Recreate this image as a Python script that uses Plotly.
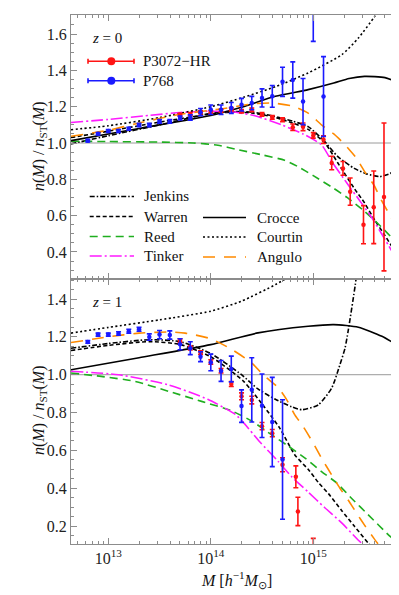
import plotly.graph_objects as go

# ---------------- data (x given as log10 M) ----------------
# z = 0 panel : simulation points
p3072_z0_logm = [13.7, 13.8, 13.9, 14.0, 14.1, 14.2, 14.3, 14.4, 14.5, 14.6, 14.7,
                 14.8, 14.9, 15.0, 15.1, 15.18, 15.29, 15.36, 15.49, 15.59, 15.69]
p3072_z0_val = [1.155, 1.160, 1.170, 1.170, 1.178, 1.186, 1.175, 1.183, 1.158, 1.141, 1.128,
                1.087, 1.089, 1.042, 1.018, 0.890, 0.860, 0.732, 0.550, 0.646, 0.703]
p3072_z0_err = [0.008, 0.008, 0.008, 0.008, 0.008, 0.009, 0.009, 0.010, 0.010, 0.010, 0.011,
                0.018, 0.021, 0.015, 0.021, 0.037, 0.038, 0.075, 0.105, 0.200, 0.407]

p768_z0_logm = [12.8, 12.9, 13.0, 13.1, 13.2, 13.3, 13.4, 13.5, 13.6, 13.7, 13.8, 13.9,
                14.0, 14.1, 14.2, 14.3, 14.4, 14.5, 14.6, 14.7, 14.8, 14.9, 15.0, 15.1]
p768_z0_val = [1.013, 1.051, 1.066, 1.066, 1.079, 1.099, 1.099, 1.119, 1.119, 1.138, 1.141, 1.170,
               1.183, 1.183, 1.193, 1.211, 1.220, 1.248, 1.257, 1.337, 1.347, 1.228, 1.95, 1.256]
p768_z0_err = [0.007, 0.007, 0.008, 0.008, 0.008, 0.009, 0.009, 0.010, 0.010, 0.011, 0.015, 0.020,
               0.026, 0.026, 0.030, 0.035, 0.037, 0.050, 0.060, 0.080, 0.100, 0.127, 0.39, 0.220]

# z = 1 panel : simulation points
p3072_z1_logm = [13.7, 13.8, 13.9, 14.0, 14.1, 14.2, 14.3, 14.4, 14.5, 14.6, 14.7, 14.83, 14.85, 15.0]
p3072_z1_val = [1.180, 1.141, 1.117, 1.067, 1.021, 0.951, 0.886, 0.866, 0.728, 0.691, 0.524, 0.460, 0.277, 0.05]
p3072_z1_err = [0.010, 0.010, 0.010, 0.012, 0.012, 0.013, 0.018, 0.020, 0.019, 0.019, 0.037, 0.058, 0.075, 0.085]

p768_z1_logm = [12.8, 12.9, 13.0, 13.1, 13.2, 13.3, 13.4, 13.5, 13.6, 13.7, 13.8, 13.9,
                14.0, 14.1, 14.2, 14.3, 14.4, 14.5, 14.6, 14.7]
p768_z1_val = [1.173, 1.212, 1.212, 1.218, 1.230, 1.240, 1.199, 1.212, 1.210, 1.161, 1.140, 1.095,
               1.065, 1.020, 1.030, 0.834, 0.920, 0.836, 0.750, 0.552]
p768_z1_err = [0.007, 0.008, 0.008, 0.009, 0.010, 0.010, 0.017, 0.022, 0.022, 0.029, 0.034, 0.026,
               0.044, 0.055, 0.068, 0.086, 0.170, 0.168, 0.236, 0.316]

# z = 0 panel : fitting functions
jenkins_z0_logm = [12.636, 13.0, 13.5, 14.0, 14.2, 14.4, 14.6, 14.8, 14.95, 15.1, 15.24, 15.4, 15.52, 15.65, 15.75, 15.8, 15.856]
jenkins_z0_val = [0.995, 1.04, 1.10, 1.163, 1.173, 1.170, 1.150, 1.120, 1.090, 1.015, 0.925, 0.860, 0.830, 0.815, 0.832, 0.860, 0.917]
warren_z0_logm = [12.636, 13.0, 13.5, 14.0, 14.2, 14.4, 14.6, 14.8, 14.95, 15.12, 15.24, 15.4, 15.5, 15.6, 15.7, 15.8, 15.856]
warren_z0_val = [1.03, 1.065, 1.115, 1.160, 1.170, 1.165, 1.145, 1.110, 1.075, 0.995, 0.890, 0.750, 0.670, 0.575, 0.490, 0.400, 0.345]
reed_z0_logm = [12.636, 13.0, 13.5, 13.83, 14.07, 14.25, 14.5, 14.72, 14.85, 15.0, 15.2, 15.33, 15.5, 15.66, 15.8, 15.856]
reed_z0_val = [1.010, 1.008, 1.005, 1.000, 0.988, 0.965, 0.935, 0.905, 0.870, 0.820, 0.750, 0.700, 0.624, 0.540, 0.460, 0.435]
tinker_z0_logm = [12.636, 13.0, 13.4, 13.7, 14.0, 14.2, 14.43, 14.69, 14.9, 15.08, 15.19, 15.34, 15.45, 15.57, 15.73, 15.856]
tinker_z0_val = [1.113, 1.130, 1.152, 1.168, 1.175, 1.172, 1.150, 1.100, 1.050, 0.990, 0.890, 0.770, 0.685, 0.590, 0.440, 0.320]
crocce_z0_logm = [12.636, 13.3, 14.0, 14.3, 14.63, 14.95, 15.2, 15.35, 15.5, 15.7, 15.856]
crocce_z0_val = [1.013, 1.080, 1.152, 1.197, 1.257, 1.294, 1.330, 1.355, 1.367, 1.360, 1.325]
courtin_z0_logm = [12.636, 13.0, 13.5, 14.0, 14.32, 14.64, 14.95, 15.28, 15.44, 15.6, 15.7]
courtin_z0_val = [1.073, 1.095, 1.140, 1.200, 1.252, 1.312, 1.386, 1.487, 1.578, 1.698, 1.790]
angulo_z0_logm = [12.636, 13.0, 13.26, 13.68, 14.13, 14.4, 14.6, 14.8, 14.95, 15.08, 15.2, 15.31, 15.42, 15.51, 15.59, 15.66, 15.75, 15.81, 15.856]
angulo_z0_val = [1.037, 1.070, 1.105, 1.156, 1.190, 1.215, 1.220, 1.203, 1.165, 1.100, 1.050, 0.990, 0.917, 0.835, 0.770, 0.690, 0.600, 0.530, 0.477]

# z = 1 panel : fitting functions
jenkins_z1_logm = [12.636, 13.0, 13.4, 13.7, 14.0, 14.3, 14.46, 14.63, 14.79, 14.89, 15.05, 15.18, 15.26, 15.31, 15.34, 15.41, 15.44]
jenkins_z1_val = [1.140, 1.165, 1.185, 1.175, 1.112, 1.000, 0.925, 0.870, 0.830, 0.815, 0.841, 0.930, 1.053, 1.141, 1.230, 1.476, 1.600]
warren_z1_logm = [12.636, 13.0, 13.4, 13.7, 14.0, 14.32, 14.5, 14.67, 14.82, 14.95, 15.05, 15.15, 15.28, 15.4, 15.537, 15.6]
warren_z1_val = [1.128, 1.155, 1.175, 1.160, 1.095, 0.965, 0.845, 0.720, 0.576, 0.500, 0.430, 0.370, 0.280, 0.200, 0.109, 0.07]
reed_z1_logm = [12.636, 12.93, 13.26, 13.59, 13.91, 14.2, 14.4, 14.6, 14.75, 14.93, 15.08, 15.23, 15.38, 15.53, 15.75, 15.856]
reed_z1_val = [1.009, 0.991, 0.965, 0.912, 0.859, 0.810, 0.755, 0.680, 0.625, 0.555, 0.488, 0.427, 0.343, 0.263, 0.145, 0.095]
tinker_z1_logm = [12.636, 13.1, 13.58, 13.97, 14.24, 14.33, 14.47, 14.66, 14.79, 14.95, 15.11, 15.28, 15.44, 15.5]
tinker_z1_val = [1.018, 1.000, 0.947, 0.870, 0.790, 0.740, 0.650, 0.540, 0.460, 0.380, 0.298, 0.215, 0.125, 0.095]
crocce_z1_logm = [12.636, 13.3, 14.0, 14.46, 14.95, 15.2, 15.44, 15.67, 15.856]
crocce_z1_val = [1.026, 1.090, 1.159, 1.221, 1.256, 1.265, 1.251, 1.203, 1.145]
courtin_z1_logm = [12.636, 13.0, 13.5, 14.0, 14.3, 14.63, 14.8]
courtin_z1_val = [1.220, 1.250, 1.290, 1.336, 1.389, 1.476, 1.530]
angulo_z1_logm = [12.636, 13.0, 13.3, 13.6, 13.75, 14.0, 14.2, 14.4, 14.51, 14.66, 14.74, 14.82, 14.9, 15.0, 15.08, 15.18, 15.26, 15.35, 15.42, 15.5, 15.59, 15.66]
angulo_z1_val = [1.170, 1.200, 1.220, 1.226, 1.220, 1.190, 1.135, 1.062, 1.000, 0.930, 0.868, 0.788, 0.727, 0.638, 0.559, 0.470, 0.400, 0.330, 0.270, 0.205, 0.136, 0.085]

x_tick_vals = [1e13, 1e14, 1e15]
x_tick_text = ["10<sup>13</sup>", "10<sup>14</sup>", "10<sup>15</sup>"]
y_top_ticks = [0.4, 0.6, 0.8, 1.0, 1.2, 1.4, 1.6]
y_bottom_ticks = [0.2, 0.4, 0.6, 0.8, 1.0, 1.2, 1.4]

# ---------------- styling ----------------
FONT = "Liberation Serif"
RED, BLUE = "#ff1414", "#1a1aff"
GREEN, MAGENTA, ORANGE, BLACK = "#1fae1f", "#ff1aff", "#ff8a00", "#000000"
GRAY = "#8c8c8c"
LW = 1.6
styles = {
    "Jenkins": dict(color=BLACK, dash="5px,2px,1.5px,2px"),
    "Warren": dict(color=BLACK, dash="4px,2.5px"),
    "Reed": dict(color=GREEN, dash="8px,5px"),
    "Tinker": dict(color=MAGENTA, dash="12px,3px,2px,3px"),
    "Crocce": dict(color=BLACK, dash="solid"),
    "Courtin": dict(color=BLACK, dash="2px,2.5px"),
    "Angulo": dict(color=ORANGE, dash="12px,9px"),
}
curves = {
    0: {"Jenkins": (jenkins_z0_logm, jenkins_z0_val), "Warren": (warren_z0_logm, warren_z0_val),
        "Reed": (reed_z0_logm, reed_z0_val), "Tinker": (tinker_z0_logm, tinker_z0_val),
        "Crocce": (crocce_z0_logm, crocce_z0_val), "Courtin": (courtin_z0_logm, courtin_z0_val),
        "Angulo": (angulo_z0_logm, angulo_z0_val)},
    1: {"Jenkins": (jenkins_z1_logm, jenkins_z1_val), "Warren": (warren_z1_logm, warren_z1_val),
        "Reed": (reed_z1_logm, reed_z1_val), "Tinker": (tinker_z1_logm, tinker_z1_val),
        "Crocce": (crocce_z1_logm, crocce_z1_val), "Courtin": (courtin_z1_logm, courtin_z1_val),
        "Angulo": (angulo_z1_logm, angulo_z1_val)},
}
points = {
    0: [("P3072−HR", p3072_z0_logm, p3072_z0_val, p3072_z0_err, RED),
        ("P768", p768_z0_logm, p768_z0_val, p768_z0_err, BLUE)],
    1: [("P3072−HR", p3072_z1_logm, p3072_z1_val, p3072_z1_err, RED),
        ("P768", p768_z1_logm, p768_z1_val, p768_z1_err, BLUE)],
}
axes_of = {0: ("x2", "y2"), 1: ("x", "y")}

fig = go.Figure()
for z in (0, 1):
    xa, ya = axes_of[z]
    for name, (lm, v) in curves[z].items():
        fig.add_trace(go.Scatter(
            x=[10 ** a for a in lm], y=v, mode="lines", name=name, showlegend=False,
            line=dict(color=styles[name]["color"], dash=styles[name]["dash"], width=LW,
                      shape="spline", smoothing=0.6),
            xaxis=xa, yaxis=ya, hoverinfo="skip"))
    for name, lm, v, e, col in points[z]:
        fig.add_trace(go.Scatter(
            x=[10 ** a for a in lm], y=v, mode="markers", name=name, showlegend=False,
            marker=dict(color=col, size=4.5),
            error_y=dict(type="data", array=e, color=col, thickness=1.6, width=2.5),
            xaxis=xa, yaxis=ya))

# ---------------- layout ----------------
W, H = 399, 595
ML, MR, MT, MB = 63, 6, 7, 59
PW, PH = W - ML - MR, H - MT - MB
split = (H - MB - 271) / PH


def fx(px):
    return (px - ML) / PW


def fy(py):
    return (H - MB - py) / PH


minor_x = [k * 10 ** d for d in (12, 13, 14, 15) for k in range(2, 10)]
axis_common = dict(showline=True, linecolor=GRAY, linewidth=1, mirror="ticks",
                   ticks="inside", tickcolor=GRAY, ticklen=6, tickwidth=1,
                   showgrid=False, zeroline=False,
                   tickfont=dict(family=FONT, size=16, color="#222"))
xcommon = dict(axis_common, type="log", range=[12.636, 15.856],
               tickmode="array", tickvals=x_tick_vals, ticktext=x_tick_text,
               minor=dict(tickmode="array", tickvals=minor_x, ticks="inside",
                          ticklen=3, tickcolor=GRAY, showgrid=False))
yminor = dict(dtick=0.05, tick0=0, ticks="inside", ticklen=3, tickcolor=GRAY, showgrid=False)

fig.update_layout(
    width=W, height=H, margin=dict(l=ML, r=MR, t=MT, b=MB),
    paper_bgcolor="white", plot_bgcolor="white", showlegend=False,
    font=dict(family=FONT, size=15, color="#111"),
    xaxis=dict(xcommon, anchor="y", domain=[0, 1]),
    yaxis=dict(axis_common, anchor="x", domain=[0, split], range=[0.105, 1.506],
               tickmode="array", tickvals=y_bottom_ticks,
               ticktext=[f"{v:.1f}" for v in y_bottom_ticks], minor=yminor),
    xaxis2=dict(xcommon, anchor="y2", matches="x", showticklabels=False, domain=[0, 1]),
    yaxis2=dict(axis_common, anchor="x2", domain=[split, 1], range=[0.251, 1.705],
                tickmode="array", tickvals=y_top_ticks,
                ticktext=[f"{v:.1f}" for v in y_top_ticks], minor=yminor),
)

shapes = []
# reference line at unity in both panels
for xr, yr in (("x2 domain", "y2"), ("x domain", "y")):
    shapes.append(dict(type="line", xref=xr, yref=yr, x0=0, x1=1, y0=1, y1=1,
                       line=dict(color="#9a9a9a", width=1), layer="below"))

annotations = []


def text(px, py, s, size=15, anchor="left", angle=0):
    annotations.append(dict(xref="paper", yref="paper", x=fx(px), y=fy(py), text=s,
                            showarrow=False, xanchor=anchor, yanchor="middle",
                            textangle=angle, font=dict(family=FONT, size=size, color="#111")))


# data legend (top panel)
for py, (name, col) in zip((53.3, 72.7), (("P3072−HR", RED), ("P768", BLUE))):
    shapes.append(dict(type="line", xref="paper", yref="paper", x0=fx(80), x1=fx(126),
                       y0=fy(py), y1=fy(py), line=dict(color=col, width=1.6)))
    for cx in (80, 126):
        shapes.append(dict(type="line", xref="paper", yref="paper", x0=fx(cx), x1=fx(cx),
                           y0=fy(py - 2.5), y1=fy(py + 2.5), line=dict(color=col, width=1.6)))
    shapes.append(dict(type="circle", xref="paper", yref="paper",
                       x0=fx(103.3 - 4), x1=fx(103.3 + 4), y0=fy(py + 4), y1=fy(py - 4),
                       fillcolor=col, line=dict(color=col, width=0)))
    text(133, py, name)

# fitting function legend
leg_rows = [("Jenkins", 81.7, 126, 134, 188.5), ("Warren", 81.7, 126, 134, 208.5),
            ("Reed", 81.7, 126, 134, 228.5), ("Tinker", 81.7, 126, 134, 248),
            ("Crocce", 195, 238, 246.7, 209.5), ("Courtin", 195, 238, 246.7, 229),
            ("Angulo", 195, 238, 246.7, 249)]
for name, x0, x1, tx, py in leg_rows:
    shapes.append(dict(type="line", xref="paper", yref="paper", x0=fx(x0), x1=fx(x1),
                       y0=fy(py), y1=fy(py),
                       line=dict(color=styles[name]["color"], dash=styles[name]["dash"], width=LW)))
    text(tx, py, name)

text(99, 30, "<i>z</i> = 0", anchor="center")
text(99, 294, "<i>z</i> = 1", anchor="center")
ylab = "<i>n</i>(<i>M</i>) / <i>n</i><sub>ST</sub>(<i>M</i>)"
text(31, 139, ylab, size=16, anchor="center", angle=-90)
text(31, 403, ylab, size=16, anchor="center", angle=-90)
text(228, 572, "<i>M</i> [<i>h</i><sup>−1</sup><i>M</i><sub>⊙</sub>]", size=16, anchor="center")

fig.update_layout(shapes=shapes, annotations=annotations)
fig.write_html("out.html")
